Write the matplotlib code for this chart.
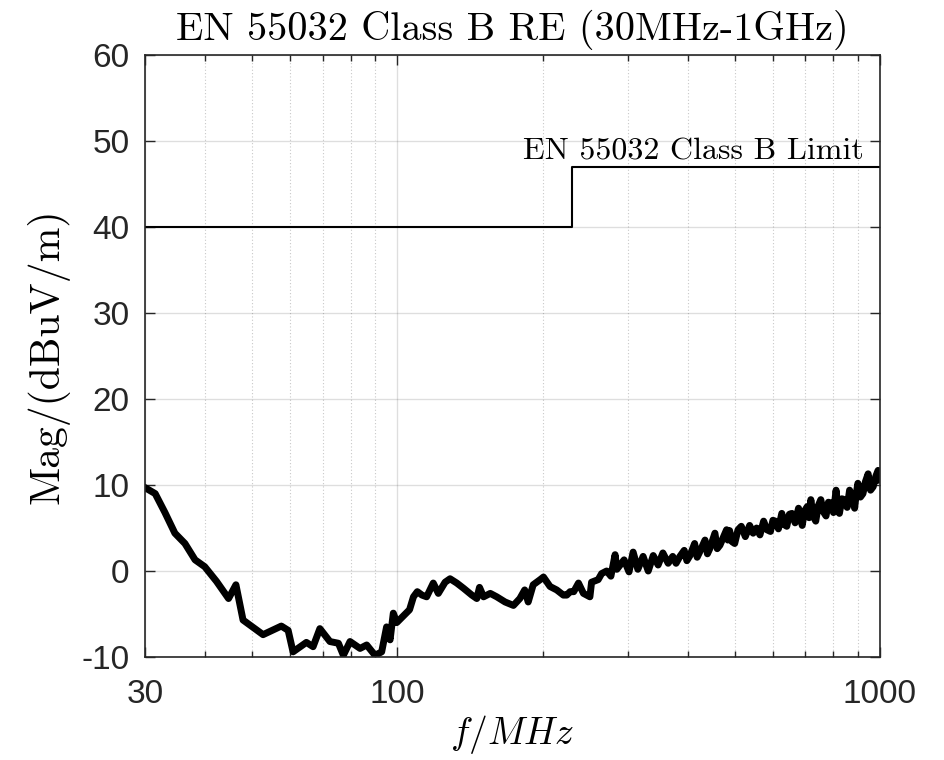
import matplotlib
matplotlib.use('Agg')
import matplotlib.pyplot as plt
import matplotlib.ticker as ticker

freq_mhz = [30.0, 31.5, 33.0, 34.6, 36.3, 38.1, 39.9, 42.2, 44.7, 46.3,
            47.9, 52.7, 57.5, 59.4, 60.8, 64.8, 66.9, 69.1, 72.5, 75.5,
            77.3, 79.8, 83.7, 86.4, 89.9, 92.8, 95.0, 96.6, 98.1, 99.7,
            103.0, 106.0, 108.0, 110.0, 112.5, 115.0, 118.7, 121.6, 125.6, 128.6,
            132.8, 137.1, 142.7, 146.1, 148.0, 150.9, 155.8, 160.7, 167.2, 174.0,
            179.4, 183.6, 186.7, 191.2, 197.7, 200.8, 207.2, 213.9, 220.8, 224.4,
            228.0, 232.0, 237.3, 243.0, 250.6, 252.6, 260.7, 265.0, 271.4, 277.0,
            282.6, 285.0, 295.0, 302.0, 308.0, 315.0, 323.0, 331.0, 339.0, 347.0,
            355.0, 364.0, 372.0, 378.0, 385.0, 393.0, 398.0, 404.0, 413.0, 418.0,
            423.0, 434.0, 439.0, 444.0, 455.0, 460.0, 466.0, 481.0, 484.0, 488.0,
            494.0, 500.0, 508.0, 516.0, 526.0, 537.0, 546.0, 555.0, 564.0, 574.0,
            583.0, 593.0, 600.0, 607.0, 616.0, 626.0, 633.0, 641.0, 649.0, 657.0,
            667.0, 678.0, 684.0, 690.0, 698.0, 707.0, 713.0, 719.0, 727.0, 736.0,
            745.0, 754.0, 763.0, 773.0, 782.0, 792.0, 801.0, 811.0, 817.0, 824.0,
            834.0, 844.0, 855.0, 865.0, 876.0, 886.0, 893.0, 900.0, 911.0, 922.0,
            933.0, 945.0, 956.0, 968.0, 980.0, 991.0, 1000.0]
mag_dbuv = [9.7, 9.0, 6.8, 4.4, 3.2, 1.3, 0.5, -1.2, -3.2, -1.6,
            -5.7, -7.4, -6.4, -6.9, -9.4, -8.3, -8.8, -6.7, -8.2, -8.4,
            -9.8, -8.2, -9.0, -8.6, -9.8, -9.4, -6.5, -8.0, -4.9, -6.0,
            -5.2, -4.5, -3.0, -2.4, -2.8, -3.0, -1.4, -2.6, -1.3, -0.9,
            -1.4, -2.0, -2.8, -3.2, -1.9, -3.0, -2.6, -3.0, -3.6, -4.0,
            -3.2, -2.2, -3.6, -1.6, -1.0, -0.7, -1.8, -2.2, -2.8, -2.8,
            -2.4, -2.4, -1.4, -2.6, -3.0, -1.3, -1.0, -0.3, 0.0, -0.6,
            1.9, 0.2, 1.3, -0.1, 2.2, 0.2, 1.7, 0.0, 1.8, 0.7,
            2.1, 0.9, 1.7, 0.9, 1.7, 2.4, 1.2, 1.8, 3.2, 1.6,
            2.2, 3.6, 2.0, 2.6, 4.4, 2.6, 3.0, 4.8, 3.6, 4.7,
            3.4, 3.2, 4.8, 5.2, 4.0, 5.3, 4.4, 5.0, 4.2, 5.8,
            4.8, 4.6, 5.9, 5.8, 4.9, 6.7, 5.4, 5.2, 6.6, 6.7,
            5.6, 7.3, 6.4, 5.3, 7.0, 7.5, 6.2, 8.3, 6.4, 5.8,
            7.6, 8.3, 6.9, 6.4, 8.0, 7.9, 6.8, 9.4, 7.6, 6.7,
            8.4, 8.3, 7.4, 9.4, 8.5, 7.3, 9.0, 10.2, 8.6, 9.0,
            10.4, 11.3, 9.4, 9.8, 11.0, 11.7, 10.6]

# --- EN 55032 class B limit (3 m) ---
limit_freq = [30, 230, 230, 1000]
limit_level = [40, 40, 47, 47]

title_text = 'EN 55032 Class B RE (30MHz-1GHz)'
limit_text = 'EN 55032 Class B Limit'
x_ticks = [30, 100, 1000]
y_ticks = [-10, 0, 10, 20, 30, 40, 50, 60]

plt.rcParams['axes.unicode_minus'] = False
plt.rcParams['mathtext.fontset'] = 'cm'

axis_color = '#262626'

fig = plt.figure(figsize=(9.45, 7.6), dpi=100)
ax = fig.add_axes([0.1534, 0.1355, 0.7778, 0.7921])

ax.plot(freq_mhz, mag_dbuv, color='black', linewidth=5.0, solid_joinstyle='round')
ax.plot(limit_freq, limit_level, color='black', linewidth=1.5)
ax.text(925, 47.2, limit_text, ha='right', va='bottom', fontsize=23,
        family=['cmr10'], color='black')

ax.set_xscale('log')
ax.set_xlim(30, 1000)
ax.set_ylim(-10, 60)
ax.set_xticks(x_ticks)
ax.xaxis.set_major_formatter(ticker.FixedFormatter([str(t) for t in x_ticks]))
ax.xaxis.set_minor_locator(ticker.LogLocator(base=10, subs=range(2, 10), numticks=20))
ax.xaxis.set_minor_formatter(ticker.NullFormatter())
ax.set_yticks(y_ticks)
ax.yaxis.set_major_formatter(ticker.FormatStrFormatter('%d'))

# MATLAB-like grid and box
ax.grid(True, which='major', color='#262626', alpha=0.15, linewidth=1.0)
ax.grid(True, which='minor', axis='x', color='#262626', alpha=0.25,
        linestyle=(0, (1, 2)), linewidth=0.8)
ax.tick_params(which='both', direction='in', top=True, right=True, color=axis_color)
ax.tick_params(which='major', length=7, width=1.0, labelsize=24, labelcolor=axis_color)
ax.tick_params(axis='y', which='major', pad=11)
ax.tick_params(axis='x', which='major', pad=16)
ax.tick_params(which='minor', length=4, width=1.0)
for lbl in ax.get_xticklabels() + ax.get_yticklabels():
    lbl.set_family(['Liberation Sans', 'DejaVu Sans'])
for spine in ax.spines.values():
    spine.set_color(axis_color)
    spine.set_linewidth(1.2)

ax.set_title(title_text, fontsize=29, family=['cmr10'], color='black', pad=11)
ax.set_ylabel('Mag/(dBuV/m)', fontsize=30, family=['cmr10'], labelpad=9)
ax.set_xlabel(r'$f/MHz$', fontsize=27, labelpad=2)

plt.savefig('out.png', dpi=100, facecolor='white')
plt.close()
